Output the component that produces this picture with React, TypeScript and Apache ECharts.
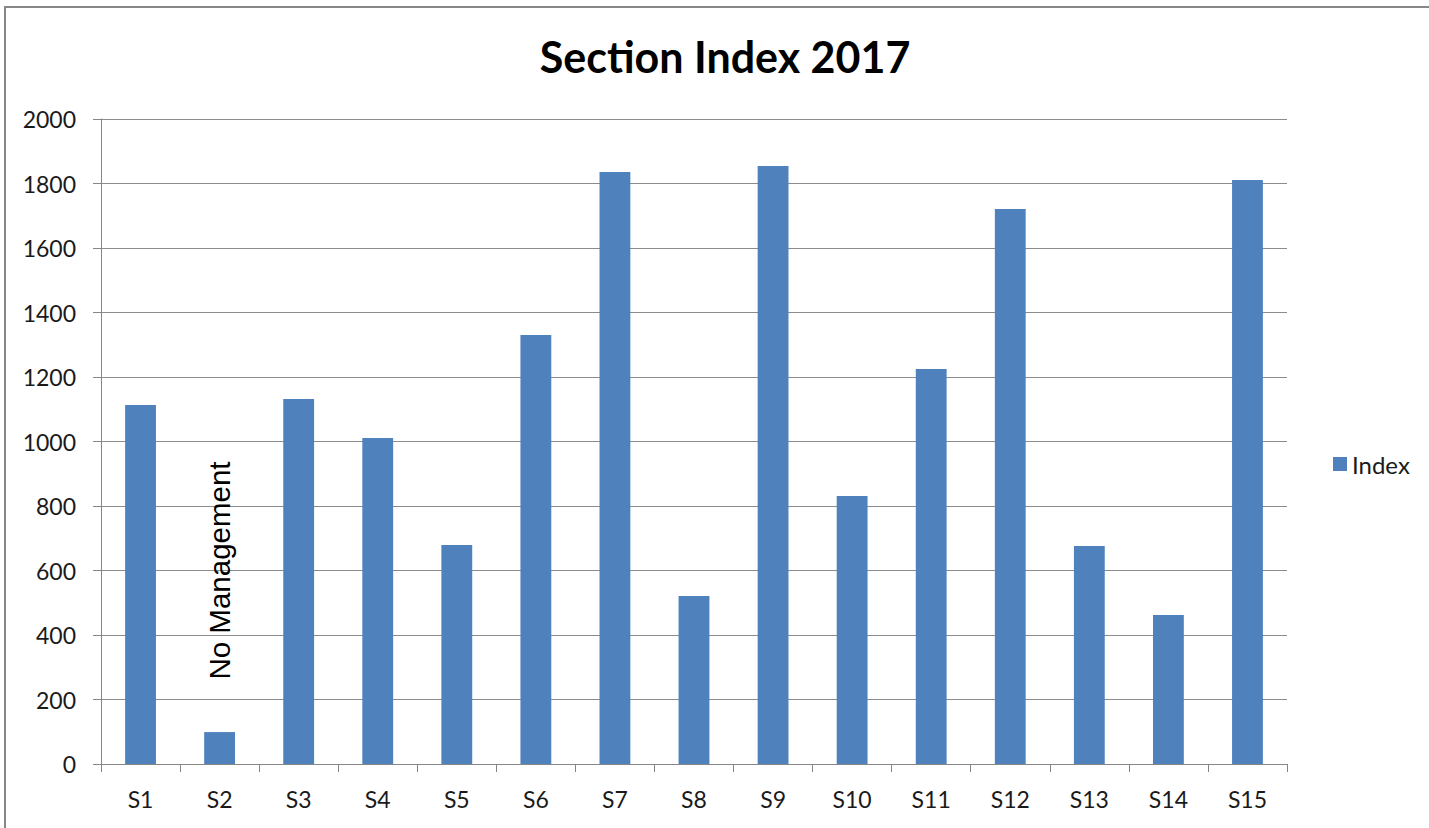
import React, { useEffect, useRef } from "react";
import * as echarts from "echarts";

const categories = ["S1", "S2", "S3", "S4", "S5", "S6", "S7", "S8", "S9", "S10", "S11", "S12", "S13", "S14", "S15"];
const indexValues = [1113, 99, 1132, 1011, 679, 1330, 1836, 521, 1854, 831, 1225, 1721, 676, 462, 1811];
const yTicks = { min: 0, max: 2000, interval: 200 };
const noteText = "No Management";
const noteAt = ["S2", 600];

export default function App() {
  const ref = useRef<HTMLDivElement>(null);
  useEffect(() => {
    const chart = echarts.init(ref.current!, null, { renderer: "svg" });
    chart.setOption({
      animation: false,
      backgroundColor: "#fff",
      title: {
        text: "Section Index 2017",
        top: 30,
        left: 720,
        textAlign: "center",
        textStyle: { fontFamily: "Lato", fontWeight: "bold", fontSize: 43, color: "#000" },
      },
      graphic: [
        {
          type: "rect",
          shape: { x: 5, y: 7, width: 1460, height: 860 },
          style: { fill: "none", stroke: "#878787", lineWidth: 2 },
          silent: true,
        },
      ],
      legend: {
        left: 1328,
        top: 447,
        orient: "vertical",
        icon: "rect",
        itemWidth: 14,
        itemHeight: 14,
        itemGap: 8,
        textStyle: { fontFamily: "Lato", fontSize: 24, color: "#1a1a1a" },
        data: ["Index"],
      },
      grid: { left: 101, right: 142, top: 119, bottom: 64, containLabel: false },
      xAxis: {
        type: "category",
        data: categories,
        boundaryGap: true,
        axisLine: { lineStyle: { color: "#868686", width: 1 } },
        axisTick: { show: true, length: 8, alignWithLabel: false, lineStyle: { color: "#868686" } },
        axisLabel: { fontFamily: "Lato", fontSize: 23, color: "#1a1a1a", margin: 23 },
      },
      yAxis: {
        type: "value",
        min: yTicks.min,
        max: yTicks.max,
        interval: yTicks.interval,
        axisLine: { show: true, lineStyle: { color: "#868686", width: 1 } },
        axisTick: { show: true, length: 8, lineStyle: { color: "#868686" } },
        axisLabel: {
          fontFamily: "Lato",
          fontSize: 23,
          color: "#1a1a1a",
          margin: 25,
          formatter: (v: number) => String(v),
        },
        splitLine: { show: true, lineStyle: { color: "#8c8c8c", width: 1 } },
      },
      series: [
        {
          name: "Index",
          type: "bar",
          data: indexValues,
          barWidth: "39%",
          itemStyle: { color: "#4F81BD" },
          markPoint: {
            symbol: "circle",
            symbolSize: 0,
            data: [{ coord: noteAt, value: noteText }],
            label: {
              show: true,
              formatter: noteText,
              rotate: 90,
              position: "inside",
              fontFamily: "Liberation Sans",
              fontSize: 29.5,
              color: "#000",
            },
          },
        },
      ],
    });
    return () => chart.dispose();
  }, []);
  return <div ref={ref} style={{ position: "absolute", left: 0, top: 0, width: 1429, height: 828 }} />;
}
